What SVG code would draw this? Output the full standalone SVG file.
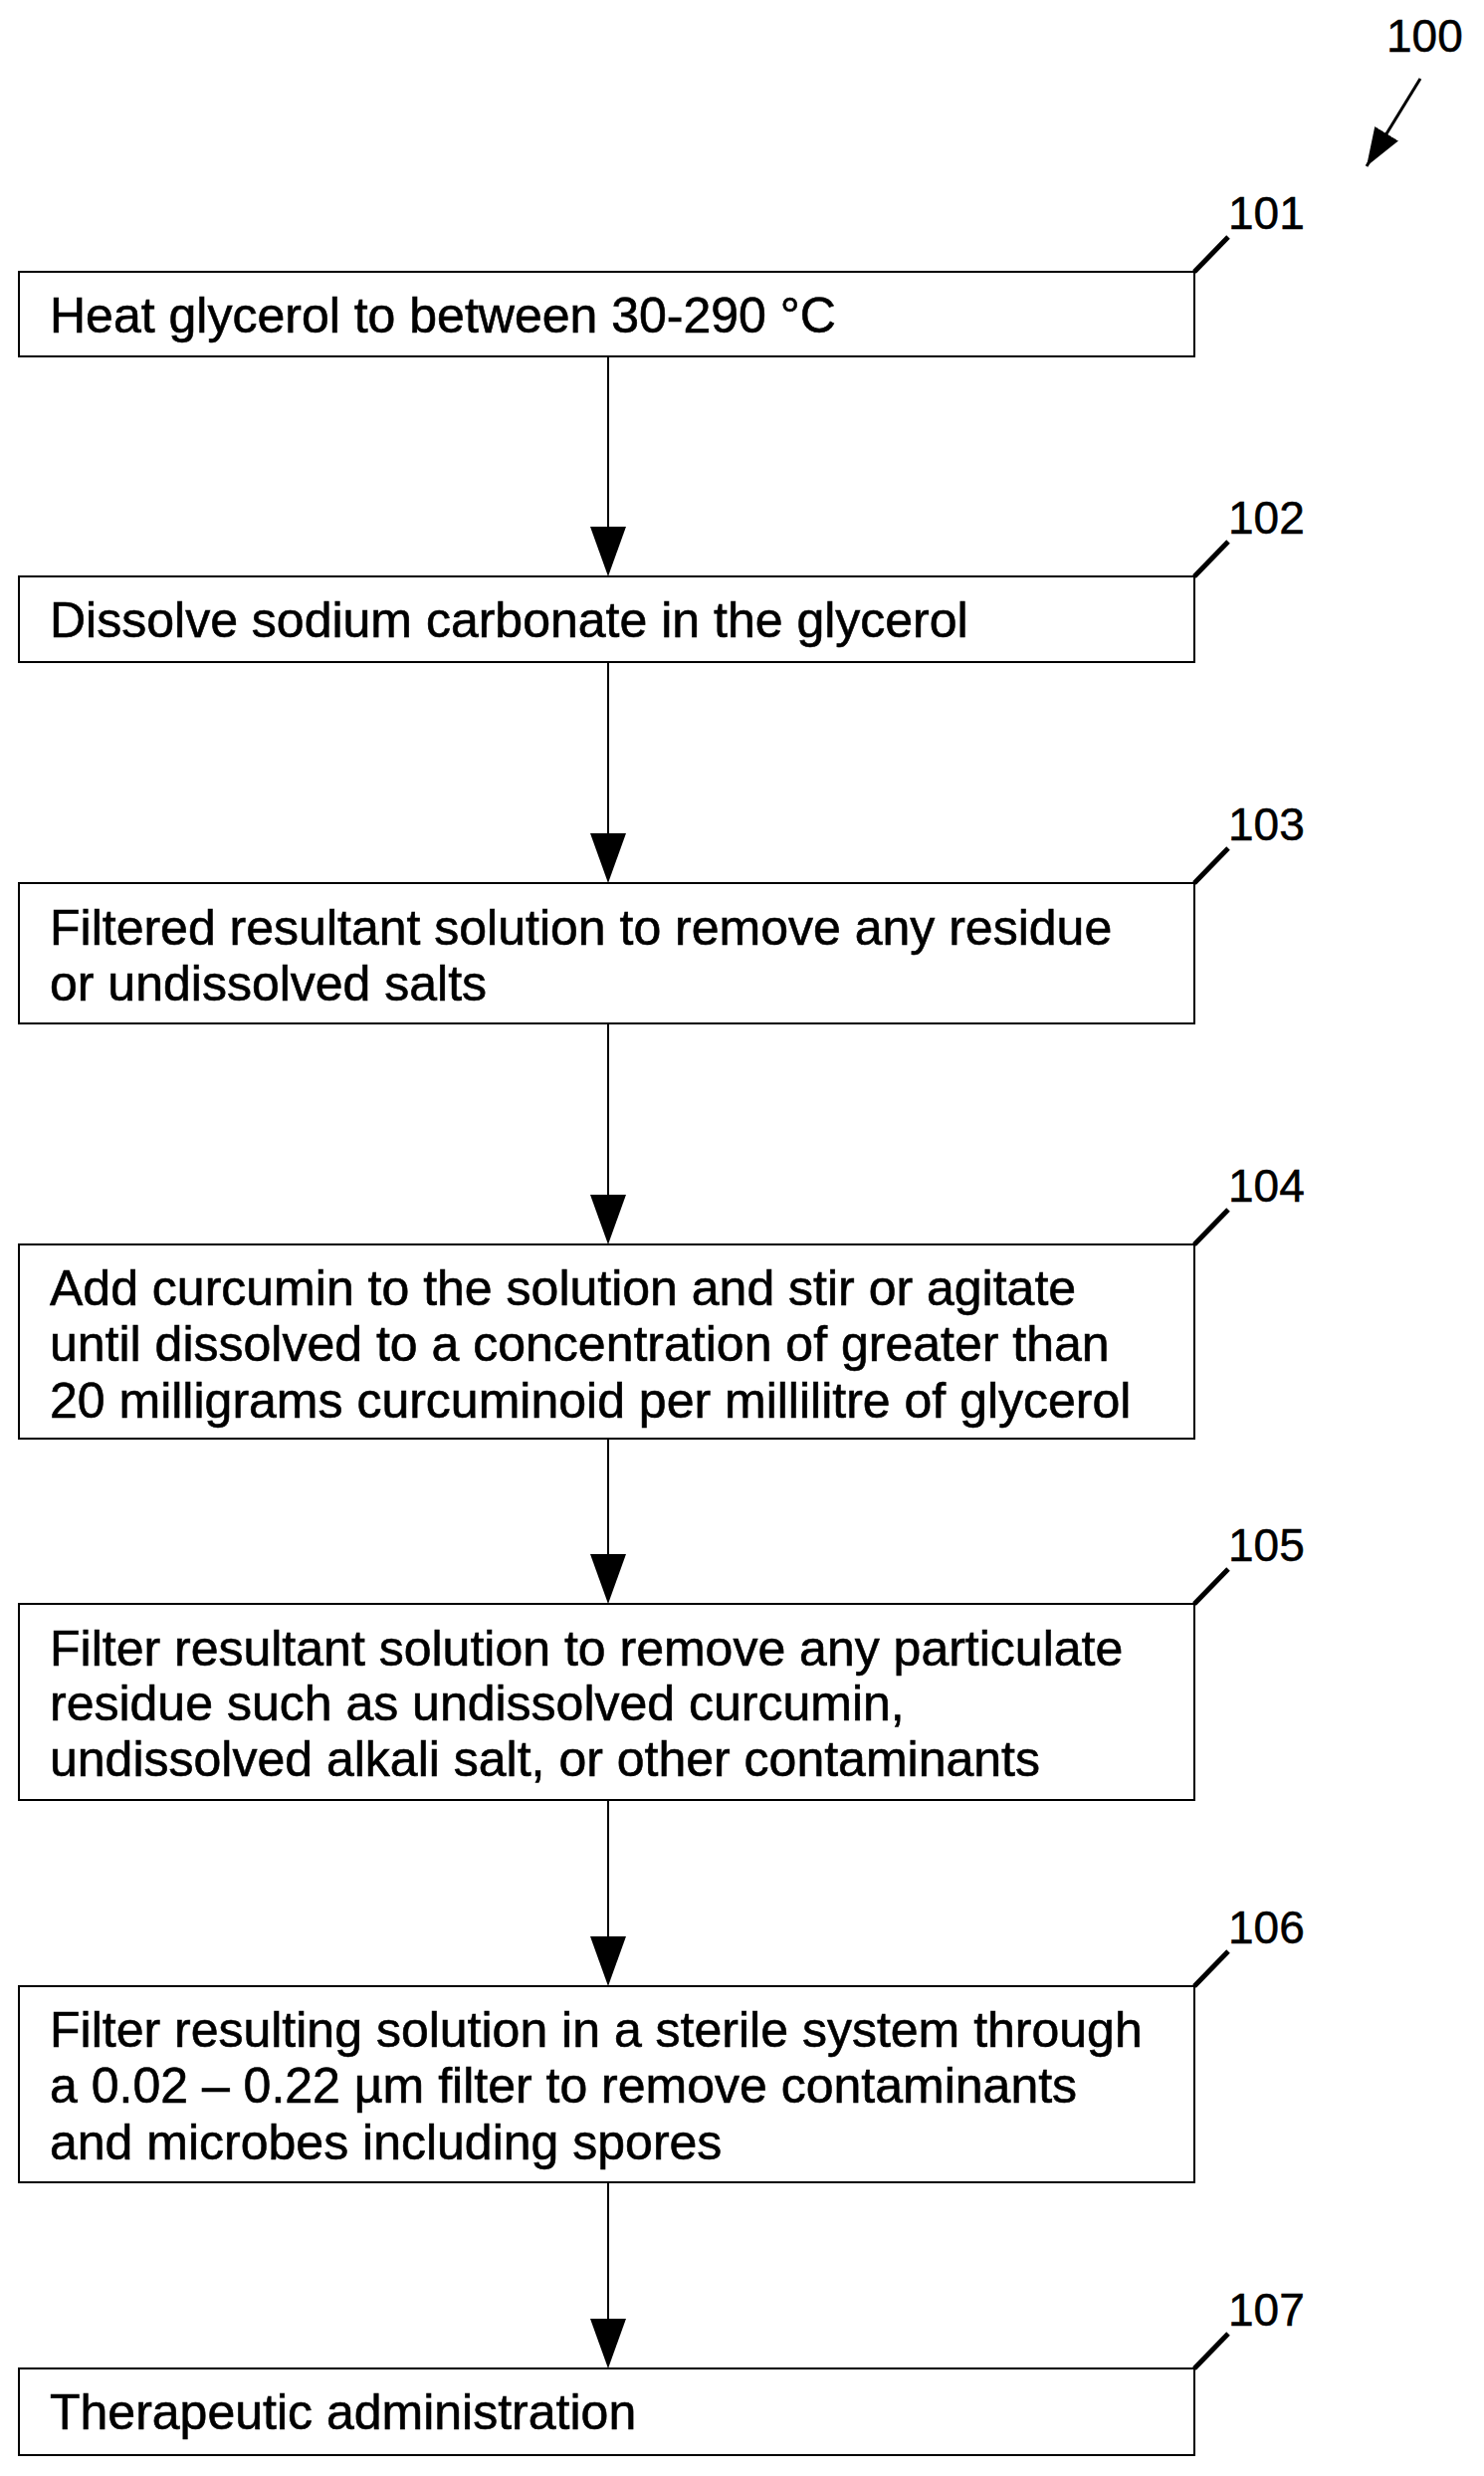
<svg xmlns="http://www.w3.org/2000/svg" width="1491" height="2487" viewBox="0 0 1491 2487">
<style>
.box{fill:#fff;stroke:#000;stroke-width:2}
.t{font-family:"Liberation Sans",Arial,sans-serif;font-size:50px;fill:#000;stroke:#000;stroke-width:0.6}
.n{font-family:"Liberation Sans",Arial,sans-serif;font-size:46px;fill:#000;stroke:#000;stroke-width:0.5}
.tick{stroke:#000;stroke-width:5;fill:none}
.c{stroke:#000;stroke-width:2;fill:none}
</style>
<defs>
<marker id="ah2" markerUnits="userSpaceOnUse" markerWidth="40" markerHeight="52" refX="50" refY="18" orient="auto" viewBox="0 0 52 36">
<path d="M0,0 L50,18 L0,36 Z" fill="#000"/>
</marker>
</defs>
<g id="label100">
<text class="n" x="1393" y="52">100</text>
<line x1="1427" y1="79" x2="1373" y2="167" stroke="#000" stroke-width="3" marker-end="url(#ah2)"/>
</g>
<g id="connectors">
<line class="c" x1="611" y1="358" x2="611" y2="540"/>
<path d="M593,529 L629,529 L611,579 Z"/>
<line class="c" x1="611" y1="665" x2="611" y2="850"/>
<path d="M593,837 L629,837 L611,887 Z"/>
<line class="c" x1="611" y1="1028" x2="611" y2="1210"/>
<path d="M593,1200 L629,1200 L611,1250 Z"/>
<line class="c" x1="611" y1="1445" x2="611" y2="1570"/>
<path d="M593,1561 L629,1561 L611,1611 Z"/>
<line class="c" x1="611" y1="1808" x2="611" y2="1955"/>
<path d="M593,1945 L629,1945 L611,1995 Z"/>
<line class="c" x1="611" y1="2192" x2="611" y2="2340"/>
<path d="M593,2329 L629,2329 L611,2379 Z"/>
</g>
<g id="n101">
<rect class="box" x="19" y="273" width="1181" height="85"/>
<text class="t" x="50" y="334">Heat glycerol to between 30-290 °C</text>
<path class="tick" d="M1200,273 L1234,238"/>
<text class="n" x="1234" y="230">101</text>
</g>
<g id="n102">
<rect class="box" x="19" y="579" width="1181" height="86"/>
<text class="t" x="50" y="640">Dissolve sodium carbonate in the glycerol</text>
<path class="tick" d="M1200,579 L1234,544"/>
<text class="n" x="1234" y="536">102</text>
</g>
<g id="n103">
<rect class="box" x="19" y="887" width="1181" height="141"/>
<text class="t" x="50" y="949">Filtered resultant solution to remove any residue</text>
<text class="t" x="50" y="1005">or undissolved salts</text>
<path class="tick" d="M1200,887 L1234,852"/>
<text class="n" x="1234" y="844">103</text>
</g>
<g id="n104">
<rect class="box" x="19" y="1250" width="1181" height="195"/>
<text class="t" x="50" y="1311">Add curcumin to the solution and stir or agitate</text>
<text class="t" x="50" y="1367">until dissolved to a concentration of greater than</text>
<text class="t" x="50" y="1424">20 milligrams curcuminoid per millilitre of glycerol</text>
<path class="tick" d="M1200,1250 L1234,1215"/>
<text class="n" x="1234" y="1207">104</text>
</g>
<g id="n105">
<rect class="box" x="19" y="1611" width="1181" height="197"/>
<text class="t" x="50" y="1673">Filter resultant solution to remove any particulate</text>
<text class="t" x="50" y="1728">residue such as undissolved curcumin,</text>
<text class="t" x="50" y="1784">undissolved alkali salt, or other contaminants</text>
<path class="tick" d="M1200,1611 L1234,1576"/>
<text class="n" x="1234" y="1568">105</text>
</g>
<g id="n106">
<rect class="box" x="19" y="1995" width="1181" height="197"/>
<text class="t" x="50" y="2056">Filter resulting solution in a sterile system through</text>
<text class="t" x="50" y="2112">a 0.02 – 0.22 µm filter to remove contaminants</text>
<text class="t" x="50" y="2169">and microbes including spores</text>
<path class="tick" d="M1200,1995 L1234,1960"/>
<text class="n" x="1234" y="1952">106</text>
</g>
<g id="n107">
<rect class="box" x="19" y="2379" width="1181" height="87"/>
<text class="t" x="50" y="2440">Therapeutic administration</text>
<path class="tick" d="M1200,2379 L1234,2344"/>
<text class="n" x="1234" y="2336">107</text>
</g>
</svg>
